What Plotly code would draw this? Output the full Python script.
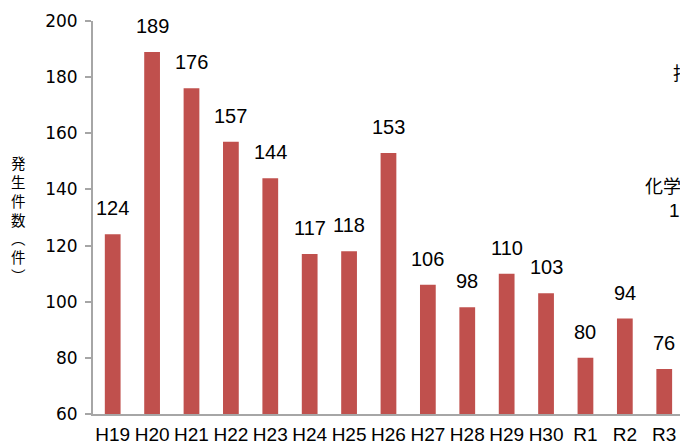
import plotly.graph_objects as go

categories = ["H19", "H20", "H21", "H22", "H23", "H24", "H25", "H26",
              "H27", "H28", "H29", "H30", "R1", "R2", "R3"]
counts = [124, 189, 176, 157, 144, 117, 118, 153, 106, 98, 110, 103, 80, 94, 76]
# axis title written vertically (vertical-form brackets)
y_title_chars = ["発", "生", "件", "数", "︵", "件", "︶"]

JP_FONT = "Noto Sans CJK JP"
LABEL_FONT = "Liberation Sans"
TICK_FONT = "DejaVu Sans"
XTICK_FONT = "Liberation Sans Narrow, Liberation Sans"
BAR_COLOR = "#C0504D"
AXIS_COLOR = "#A6A6A6"

W, H = 680, 444
PL, PT, PR, PB = 93, 21, 680, 414
PW, PH = PR - PL, PB - PT


def px(x):
    return (x - PL) / PW


def py(y):
    return (PB - y) / PH


fig = go.Figure()
fig.add_trace(go.Bar(
    x=categories, y=counts, marker=dict(color=BAR_COLOR, line=dict(width=0)),
    hoverinfo="x+y",
))

annotations = []
for c, v in zip(categories, counts):
    annotations.append(dict(
        x=c, y=v, xref="x", yref="y", text=str(v), showarrow=False,
        yanchor="middle", yshift=26,
        font=dict(family=LABEL_FONT, size=20, color="#000000"),
    ))

# vertical axis title (stacked characters)
annotations.append(dict(
    x=px(18), y=py(219), xref="paper", yref="paper", xanchor="center", yanchor="middle",
    text="<br>".join(y_title_chars), showarrow=False,
    font=dict(family=JP_FONT, size=14.5, color="#000000"),
))

# partially visible text box at the right edge (cropped in the original)
annotations.append(dict(
    x=px(671), y=py(72), xref="paper", yref="paper",
    xanchor="left", yanchor="middle", text="指摘", showarrow=False,
    font=dict(family=JP_FONT, size=18, color="#000000"),
))
annotations.append(dict(
    x=px(643), y=py(185), xref="paper", yref="paper",
    xanchor="left", yanchor="middle", text="化学物質", showarrow=False,
    font=dict(family=JP_FONT, size=18, color="#000000"),
))
annotations.append(dict(
    x=px(667), y=py(210), xref="paper", yref="paper",
    xanchor="left", yanchor="middle", text="1", showarrow=False,
    font=dict(family=LABEL_FONT, size=19, color="#000000"),
))

fig.update_layout(
    width=W, height=H,
    margin=dict(l=PL, r=W - PR, t=PT, b=H - PB),
    paper_bgcolor="white", plot_bgcolor="white",
    showlegend=False,
    bargap=0.6,
    font=dict(family=LABEL_FONT, color="#000000"),
    annotations=annotations,
    xaxis=dict(
        range=[-0.5, 14.4], showgrid=False, zeroline=False,
        showline=True, linecolor=AXIS_COLOR, linewidth=2,
        ticks="", tickfont=dict(family=XTICK_FONT, size=19, color="#000000"),
        ticklabelstandoff=2, automargin=False,
    ),
    yaxis=dict(
        range=[60, 200], dtick=20, tick0=60, showgrid=False, zeroline=False,
        showline=True, linecolor=AXIS_COLOR, linewidth=2,
        ticks="outside", ticklen=6, tickcolor=AXIS_COLOR, tickwidth=1.5,
        tickfont=dict(family=TICK_FONT, size=17, color="#000000"),
        ticklabelstandoff=4, automargin=False,
    ),
)

# remove the default page margin so the figure fills the 680x444 window exactly
fig.write_html(
    "out.html",
    config={"displayModeBar": False},
    post_script="document.body.style.margin='0';document.body.style.overflow='hidden';",
)
